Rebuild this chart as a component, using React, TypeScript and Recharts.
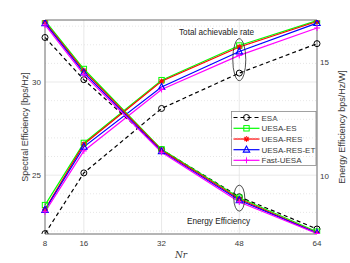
import React from "react";
import {
  ComposedChart,
  Line,
  XAxis,
  YAxis,
  CartesianGrid,
  ReferenceLine,
  ReferenceDot,
} from "recharts";

const nr = [8, 16, 32, 48, 64];
const seriesNames = ["ESA", "UESA-ES", "UESA-RES", "UESA-RES-ET", "Fast-UESA"];

// Total achievable rate (left axis, bps/Hz)
const esaRate = [21.86, 25.12, 28.58, 30.48, 32.06];
const uesaEsRate = [23.39, 26.73, 30.1, 31.96, 33.3];
const uesaResRate = [23.16, 26.66, 30.04, 31.88, 33.25];
const uesaResEtRate = [23.13, 26.52, 29.73, 31.64, 33.16];
const fastUesaRate = [23.03, 26.3, 29.6, 31.43, 32.9];

// Energy efficiency (right axis, bps/Hz/W)
const esaEE = [16.1, 14.24, 11.16, 9.08, 7.66];
const uesaEsEE = [16.84, 14.71, 11.17, 9.04, 7.54];
const uesaResEE = [16.78, 14.64, 11.13, 8.98, 7.49];
const uesaResEtEE = [16.73, 14.55, 11.08, 8.93, 7.48];
const fastUesaEE = [16.65, 14.46, 11.04, 8.85, 7.46];

const leftTicks = [25, 30];
const leftMinor = [22, 23, 24, 26, 27, 28, 29, 31, 32, 33];
const rightTicks = [10, 15];
const leftDomain = [21.84, 33.33];
const rightDomain = [7.44, 16.87];

const rateSeries = [esaRate, uesaEsRate, uesaResRate, uesaResEtRate, fastUesaRate];
const eeSeries = [esaEE, uesaEsEE, uesaResEE, uesaResEtEE, fastUesaEE];

const data = nr.map((n, i) => {
  const row: Record<string, number> = { nr: n };
  seriesNames.forEach((_, s) => {
    row["rate" + s] = rateSeries[s][i];
    row["ee" + s] = eeSeries[s][i];
  });
  return row;
});

const colors = ["#000000", "#00ff00", "#ff0000", "#0000ff", "#ff00ff"];
const FONT = "'Liberation Sans', Arial, Helvetica, sans-serif";
const TXT = "#3a3a3a";

function Marker({ kind, cx, cy, color }: { kind: number; cx: number; cy: number; color: string }) {
  if (cx == null || cy == null) return null;
  switch (kind) {
    case 0:
      return <circle cx={cx} cy={cy} r={3} fill="none" stroke={color} strokeWidth={1} />;
    case 1:
      return <rect x={cx - 2.7} y={cy - 2.7} width={5.4} height={5.4} fill="none" stroke={color} strokeWidth={1} />;
    case 2:
      return (
        <g stroke={color} strokeWidth={1.1}>
          <line x1={cx - 2.8} y1={cy} x2={cx + 2.8} y2={cy} />
          <line x1={cx} y1={cy - 2.8} x2={cx} y2={cy + 2.8} />
          <line x1={cx - 2} y1={cy - 2} x2={cx + 2} y2={cy + 2} />
          <line x1={cx - 2} y1={cy + 2} x2={cx + 2} y2={cy - 2} />
        </g>
      );
    case 3:
      return (
        <polygon
          points={`${cx},${cy - 3.6} ${cx - 3.2},${cy + 2.4} ${cx + 3.2},${cy + 2.4}`}
          fill="none"
          stroke={color}
          strokeWidth={1.1}
        />
      );
    default:
      return (
        <g stroke={color} strokeWidth={1}>
          <line x1={cx - 3} y1={cy} x2={cx + 3} y2={cy} />
          <line x1={cx} y1={cy - 3} x2={cx} y2={cy + 3} />
        </g>
      );
  }
}

function makeDot(kind: number) {
  return (props: any) => (
    <Marker key={`m-${kind}-${props.dataKey}-${props.index}`} kind={kind} cx={props.cx} cy={props.cy} color={colors[kind]} />
  );
}

function LegendBox() {
  const x0 = 231.5;
  const y0 = 111.5;
  const rowY = [117.5, 128.3, 139, 149.7, 160.3];
  return (
    <g>
      <rect x={x0} y={y0} width={84.5} height={54} fill="#ffffff" stroke="#8a8a8a" strokeWidth={0.8} />
      {seriesNames.map((name, i) => (
        <g key={name}>
          <line
            x1={233.5}
            y1={rowY[i]}
            x2={259.5}
            y2={rowY[i]}
            stroke={colors[i]}
            strokeWidth={1.2}
            strokeDasharray={i === 0 ? "4 3" : undefined}
          />
          <Marker kind={i} cx={246.5} cy={rowY[i]} color={colors[i]} />
          <text x={261.5} y={rowY[i] + 3} fontSize={8} fontFamily={FONT} fill={TXT}>
            {name}
          </text>
        </g>
      ))}
    </g>
  );
}

export default function App() {
  return (
    <div style={{ position: "absolute", left: 0, top: 0, width: 350, height: 263, background: "#fff" }}>
      <ComposedChart width={350} height={263} data={data} margin={{ top: 20, right: 0, bottom: 0, left: 0 }}>
        <CartesianGrid yAxisId="left" stroke="#e3e3e3" strokeWidth={0.8} />
        {leftMinor.map((v) => (
          <ReferenceLine key={"mg" + v} yAxisId="left" y={v} stroke="#dddddd" strokeWidth={0.7} strokeDasharray="1 2" />
        ))}
        <ReferenceLine yAxisId="left" y={leftDomain[1]} stroke="#555" strokeWidth={0.8} ifOverflow="visible" />
        <XAxis
          dataKey="nr"
          type="number"
          domain={[8, 64]}
          ticks={nr}
          height={29}
          tickLine={false}
          tickSize={0}
          tickMargin={6}
          axisLine={{ stroke: "#555", strokeWidth: 0.8 }}
          tick={{ fontSize: 8, fill: TXT, fontFamily: FONT }}
          label={{
            value: "Nr",
            position: "insideBottom",
            offset: 5,
            style: { fontStyle: "italic", fontFamily: "'DejaVu Serif', 'Liberation Serif', serif", fontSize: 9, fill: TXT },
          }}
        />
        <YAxis
          yAxisId="left"
          orientation="left"
          width={45}
          domain={leftDomain}
          ticks={leftTicks}
          allowDataOverflow
          tickLine={false}
          tickSize={0}
          tickMargin={4}
          axisLine={{ stroke: "#555", strokeWidth: 0.8 }}
          tick={{ fontSize: 8, fill: TXT, fontFamily: FONT }}
          label={{
            value: "Spectral Efficiency [bps/Hz]",
            angle: -90,
            position: "insideLeft",
            offset: 25,
            style: { textAnchor: "middle", fontSize: 9, fill: TXT, fontFamily: FONT },
          }}
        />
        <YAxis
          yAxisId="right"
          orientation="right"
          width={33}
          domain={rightDomain}
          ticks={rightTicks}
          allowDataOverflow
          tickLine={false}
          tickSize={0}
          tickMargin={3}
          axisLine={{ stroke: "#555", strokeWidth: 0.8 }}
          tick={{ fontSize: 8, fill: TXT, fontFamily: FONT }}
          label={{
            value: "Energy Efficiency bps/Hz/W]",
            angle: -90,
            position: "insideRight",
            offset: 8,
            style: { textAnchor: "middle", fontSize: 9, fill: TXT, fontFamily: FONT },
          }}
        />
        {seriesNames.map((name, i) => (
          <Line
            key={"r" + i}
            yAxisId="left"
            dataKey={"rate" + i}
            name={name}
            stroke={colors[i]}
            strokeWidth={1.2}
            strokeDasharray={i === 0 ? "4 3" : undefined}
            dot={makeDot(i)}
            activeDot={false}
            isAnimationActive={false}
          />
        ))}
        {seriesNames.map((name, i) => (
          <Line
            key={"e" + i}
            yAxisId="right"
            dataKey={"ee" + i}
            name={name}
            stroke={colors[i]}
            strokeWidth={1.2}
            strokeDasharray={i === 0 ? "4 3" : undefined}
            dot={makeDot(i)}
            activeDot={false}
            isAnimationActive={false}
          />
        ))}
        <ReferenceDot
          yAxisId="left"
          x={48}
          y={31.2}
          ifOverflow="visible"
          shape={(p: any) => <ellipse cx={p.cx} cy={p.cy} rx={6.5} ry={21} fill="none" stroke="#222" strokeWidth={0.8} />}
        />
        <ReferenceDot
          yAxisId="right"
          x={48}
          y={9.02}
          ifOverflow="visible"
          shape={(p: any) => <ellipse cx={p.cx} cy={p.cy} rx={5.5} ry={13} fill="none" stroke="#222" strokeWidth={0.8} />}
        />
        <text x={179} y={34.5} fontSize={8.2} fontFamily={FONT} fill="#222">
          Total achievable rate
        </text>
        <text x={187} y={223.5} fontSize={8.2} fontFamily={FONT} fill="#222">
          Energy Efficiency
        </text>
        <LegendBox />
      </ComposedChart>
    </div>
  );
}
